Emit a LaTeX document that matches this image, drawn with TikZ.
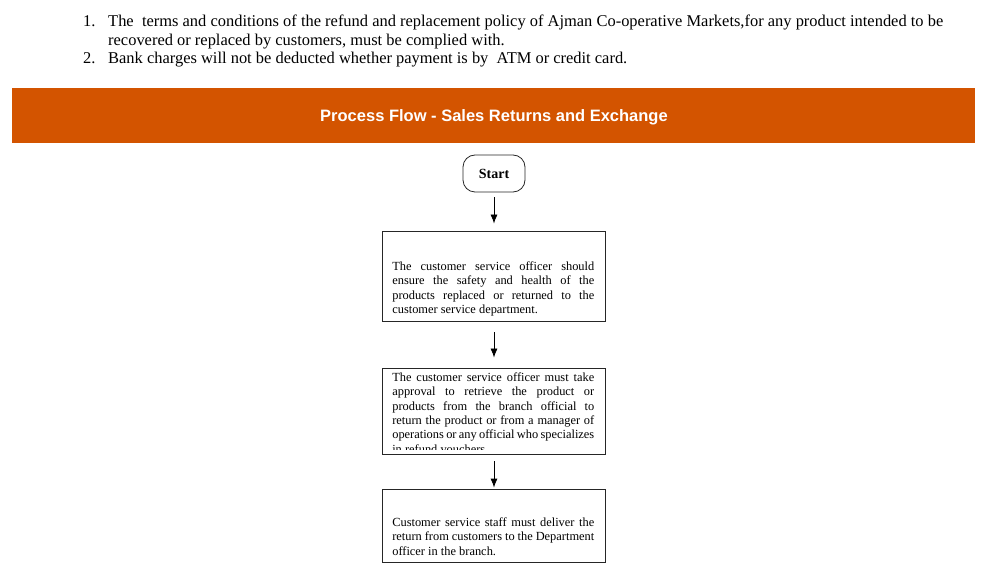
\documentclass[tikz,border=0pt]{standalone}
\usepackage{fontspec}
\setmainfont{Liberation Serif}
\newfontfamily\titlefont{Liberation Sans}
\usepackage{tikz}
\usetikzlibrary{arrows.meta,positioning,calc}
\definecolor{barorange}{RGB}{211,84,0}
\newcommand\nohyph{\hyphenpenalty=10000 \exhyphenpenalty=10000 \relax}

\begin{document}
\begin{tikzpicture}[x=1pt,y=-1pt,
    flowbox/.style={draw=black!85,line width=0.8pt,minimum width=223pt,inner sep=0pt},
    startbox/.style={draw=black!85,line width=0.8pt,rounded corners=12pt,minimum width=62pt,minimum height=37pt,inner sep=0pt,font=\fontsize{14}{16}\selectfont\bfseries},
    boxtext/.style={anchor=north west,inner sep=0pt,text width=202pt,align=justify,font=\fontsize{12.4}{14.3}\selectfont\nohyph},
    listtext/.style={anchor=base west,inner sep=0pt,font=\fontsize{16.45}{18.5}\selectfont},
    flowarrow/.style={line width=0.8pt,-{Latex[length=9pt,width=7pt]}}]
  \useasboundingbox (0,0) rectangle (989,572);
  % notes above the flow
  \node[listtext] (n1) at (83,27) {1.};
  \node[listtext] (l1a) at (108,27) {The~ terms and conditions of the refund and replacement policy of Ajman Co-operative Markets,for any product intended to be};
  \node[listtext] (l1b) at (108,46) {recovered or replaced by customers, must be complied with.};
  \node[listtext] (n2) at (83,64) {2.};
  \node[listtext] (l2) at (108,64) {Bank charges will not be deducted whether payment is by~ ATM or credit card.};
  % title bar
  \draw [fill=barorange,draw=none] (12,88) rectangle (975,143) {};
  \node[text=white,font=\titlefont\fontsize{16.5}{18}\selectfont\bfseries,anchor=base] (title) at (494,121.5) {Process Flow - Sales Returns and Exchange};
  % flow
  \node[startbox] (start) at (494,173.5) {Start};
  \node[flowbox,minimum height=90pt] (b1) at (493.5,276) {};
  \node[flowbox,minimum height=86pt] (b2) at (493.5,411) {};
  \node[flowbox,minimum height=73pt] (b3) at (493.5,525.5) {};
  \node[boxtext] (t1) at ([xshift=10.5pt,yshift=-31pt]b1.north west) {The customer service officer should\linebreak
    ensure the safety and health of the\linebreak
    products replaced or returned to the\linebreak
    customer service department.};
  \begin{scope}
    \clip ([xshift=1pt,yshift=-1pt]b2.north west) rectangle ([xshift=-1pt]b2.east |- 0,449);
    \node[boxtext] (t2) at ([xshift=10.5pt,yshift=-5pt]b2.north west) {The customer service officer must take\linebreak
      approval to retrieve the product or\linebreak
      products from the branch official to\linebreak
      return the product or from a manager of\linebreak
      operations or any official who specializes\linebreak
      in refund vouchers};
  \end{scope}
  \node[boxtext] (t3) at ([xshift=10.5pt,yshift=-29pt]b3.north west) {Customer service staff must deliver the\linebreak
    return from customers to the Department\linebreak
    officer in the branch.};
  \draw[flowarrow,shorten <=5pt,shorten >=7pt] (start.south) -- (start.south |- b1.north);
  \draw[flowarrow,shorten <=11pt,shorten >=10pt] (b1.south -| start.south) -- (start.south |- b2.north);
  \draw[flowarrow,shorten <=7pt,shorten >=1pt] (b2.south -| start.south) -- (start.south |- b3.north);
\end{tikzpicture}
\end{document}
